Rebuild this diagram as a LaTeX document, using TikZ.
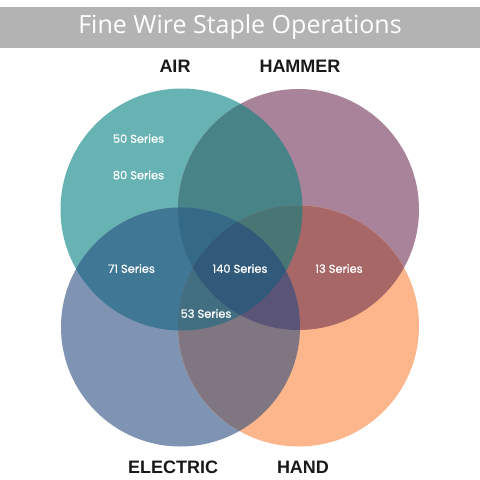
\documentclass[tikz,border=0pt]{standalone}
\usepackage{fontspec}
\newfontfamily\titlefont{Open Sans}
\newfontfamily\catfont{Liberation Sans}
\newfontfamily\seriesfont[FakeBold=0.7]{Poppins}
\definecolor{titlebar}{HTML}{B3B3B3}
\definecolor{cA}{HTML}{67B3B3}
\definecolor{cH}{HTML}{A88399}
\definecolor{cE}{HTML}{7F94B3}
\definecolor{cD}{HTML}{FDB58B}
\definecolor{cAH}{HTML}{478387}
\definecolor{cAE}{HTML}{3F7794}
\definecolor{cHD}{HTML}{A86767}
\definecolor{cED}{HTML}{807682}
\definecolor{cAHE}{HTML}{356A87}
\definecolor{cAHD}{HTML}{477675}
\definecolor{cAED}{HTML}{416F81}
\definecolor{cHED}{HTML}{5A5577}
\definecolor{cAHED}{HTML}{30597A}
\tikzset{
  cattext/.style={font=\catfont\bfseries\fontsize{18}{20}\selectfont, text=black!90},
  serieslabel/.style={font=\seriesfont\fontsize{11.4}{13}\selectfont, text=white},
}
\def\cirA{(181.5,209.5) circle[radius=121]}
\def\cirH{(298.5,209.5) circle[radius=120.5]}
\def\cirE{(180.5,327) circle[radius=119.5]}
\def\cirD{(298.5,326) circle[radius=120.5]}
\begin{document}
\begin{tikzpicture}[x=1pt,y=-1pt]
\useasboundingbox (0,0) rectangle (480,480);
\fill[white] (0,0) rectangle (480,480);
% title
\fill[titlebar] (0,7) rectangle (480,48);
\node[text=white, font=\titlefont\fontsize{25}{28}\selectfont] (title) at (240,27.5) {Fine Wire Staple Operations};
% single circles
\fill[cA] \cirA;
\fill[cH] \cirH;
\fill[cE] \cirE;
\fill[cD] \cirD;
% pairs
\begin{scope}\clip \cirA; \fill[cAH] \cirH; \end{scope}
\begin{scope}\clip \cirA; \fill[cAE] \cirE; \end{scope}
\begin{scope}\clip \cirH; \fill[cHD] \cirD; \end{scope}
\begin{scope}\clip \cirE; \fill[cED] \cirD; \end{scope}
% triples
\begin{scope}\clip \cirA; \clip \cirH; \fill[cAHE] \cirE; \end{scope}
\begin{scope}\clip \cirA; \clip \cirH; \fill[cAHD] \cirD; \end{scope}
\begin{scope}\clip \cirA; \clip \cirE; \fill[cAED] \cirD; \end{scope}
\begin{scope}\clip \cirH; \clip \cirE; \fill[cHED] \cirD; \end{scope}
% quadruple
\begin{scope}\clip \cirA; \clip \cirH; \clip \cirE; \fill[cAHED] \cirD; \end{scope}
% category labels
\node[cattext] (air) at (175,66.5) {AIR};
\node[cattext] (hammer) at (300,66.5) {HAMMER};
\node[cattext] (electric) at (173,467) {ELECTRIC};
\node[cattext] (hand) at (303,467) {HAND};
% series labels
\node[serieslabel] (s50) at (138.5,138.5) {50 Series};
\node[serieslabel] (s80) at (138.5,175) {80 Series};
\node[serieslabel] (s71) at (131.5,268.5) {71 Series};
\node[serieslabel] (s140) at (240,268.5) {140 Series};
\node[serieslabel] (s13) at (339,268.5) {13 Series};
\node[serieslabel] (s53) at (206,313.5) {53 Series};
\end{tikzpicture}
\end{document}
